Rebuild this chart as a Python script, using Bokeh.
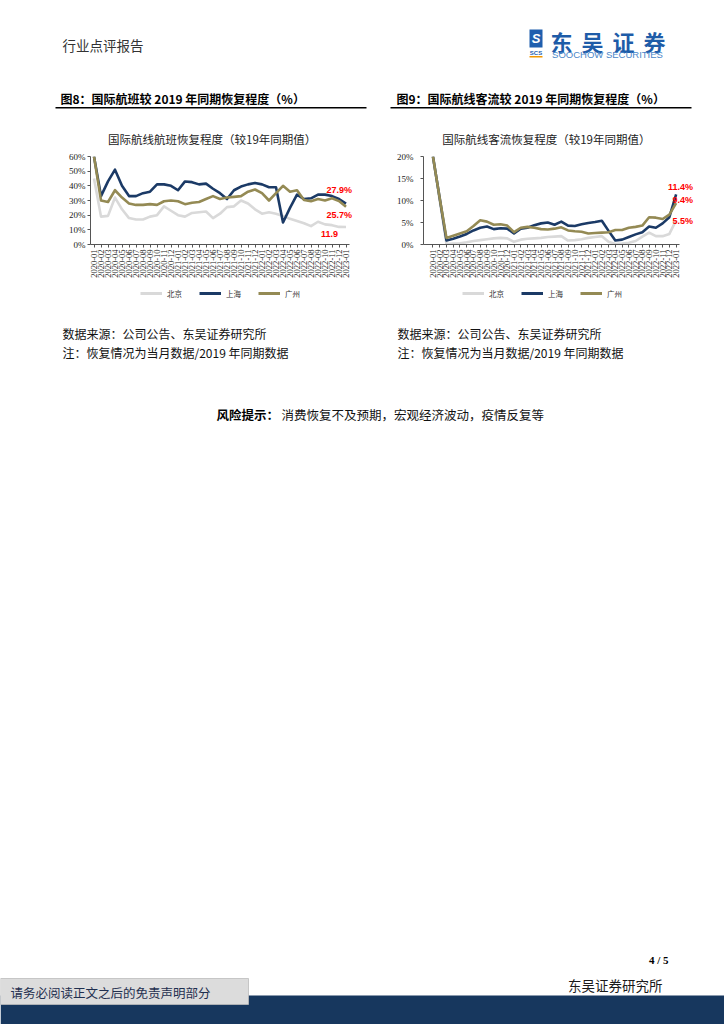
import math
from bokeh.plotting import figure
from bokeh.models import Range1d, FixedTicker, Legend, LegendItem, Title, Label
from bokeh.layouts import column, row
from bokeh.core.properties import value
from bokeh.embed import file_html
from bokeh.resources import INLINE

# ---------------- data ----------------
months = ["2020-01", "2020-02", "2020-03", "2020-04", "2020-05", "2020-06", "2020-07", "2020-08",
          "2020-09", "2020-10", "2020-11", "2020-12", "2021-01", "2021-02", "2021-03", "2021-04",
          "2021-05", "2021-06", "2021-07", "2021-08", "2021-09", "2021-10", "2021-11", "2021-12",
          "2022-01", "2022-02", "2022-03", "2022-04", "2022-05", "2022-06", "2022-07", "2022-08",
          "2022-09", "2022-10", "2022-11", "2022-12", "2023-01"]
series_names = ["北京", "上海", "广州"]

# Fig 8: international flights recovery vs 2019 (%)
flight_bj = [45, 19, 19.5, 32, 24, 18, 17, 17, 19, 20, 26, 23, 20, 19, 21.5, 22, 22.5, 18, 21, 25.5,
             26, 30, 28, 24, 21, 22, 21, 19.5, 17.5, 16, 14.5, 12.5, 15.5, 13.7, 13.2, 12, 11.9]
flight_sh = [60, 33, 43, 51, 40, 33, 33, 35, 36, 41, 41, 40, 37, 43, 42.5, 41, 41.5, 38, 35, 31,
             37, 39.5, 41, 42, 41, 39, 39, 15, 25, 34, 31, 31.5, 34, 34, 33, 31, 27.9]
flight_gz = [60, 30, 29, 37, 32, 28, 27, 27, 27.5, 27, 29.5, 30, 29.5, 27.5, 28.5, 29, 31, 33, 31, 32,
             32.5, 33, 36, 37.5, 35, 30, 35, 40, 36, 37, 30.3, 29.5, 31, 30, 31.5, 29.6, 25.7]
flight_yticks = [0, 10, 20, 30, 40, 50, 60]

# Fig 9: international passenger traffic recovery vs 2019 (%)
pax_bj = [20, 10, 0.1, 0.2, 0.3, 0.5, 0.8, 1.0, 1.2, 1.4, 1.5, 1.4, 0.6, 1.1, 1.3, 1.4, 1.5, 1.7, 1.8,
          1.9, 0.9, 1.0, 1.2, 1.5, 1.7, 1.9, 0.6, 0.1, 0.2, 0.4, 0.8, 1.8, 2.7, 1.9, 1.9, 2.4, 5.5]
pax_sh = [20, 10.5, 0.9, 1.3, 1.8, 2.4, 3.2, 3.8, 4.1, 3.5, 3.7, 3.6, 2.5, 3.6, 3.8, 4.4, 4.8, 5.0, 4.5,
          5.2, 4.3, 4.2, 4.6, 4.9, 5.1, 5.4, 3.1, 0.9, 1.1, 1.7, 2.3, 2.8, 4.1, 3.8, 4.8, 6.2, 11.4]
pax_gz = [20, 10.5, 1.5, 2.0, 2.5, 3.0, 4.2, 5.5, 5.2, 4.5, 4.6, 4.3, 2.8, 3.8, 4.0, 3.8, 3.5, 3.4, 3.6,
          3.9, 3.2, 3.0, 2.9, 2.5, 2.6, 2.7, 2.8, 3.3, 3.3, 3.8, 4.0, 4.3, 6.2, 6.1, 5.8, 6.8, 9.4]
pax_yticks = [0, 5, 10, 15, 20]

# ---------------- styles ----------------
CJK = "Noto Sans CJK SC"
SERIF = "Liberation Serif"
SANS = "Liberation Sans"
COLORS = ["#D9D9D9", "#1B3A66", "#948A54"]
W = 724
LW = 2.6


def page_fig(w, h):
    f = figure(width=w, height=h, x_range=Range1d(0, w), y_range=Range1d(h, 0),
               output_backend="svg", toolbar_location=None, min_border=0,
               x_axis_location=None, y_axis_location=None)
    f.grid.visible = False
    f.outline_line_color = None
    f.background_fill_color = "white"
    f.border_fill_color = "white"
    return f


def txt(f, x, y, s, size, font=CJK, color="#000000", bold=False, align="left", italic=False):
    style = "bold" if bold else "normal"
    if italic:
        style = "bold italic" if bold else "italic"
    f.text(x=[x], y=[y], text=[s], text_font=value(font), text_font_size=f"{size}px",
           text_color=color, text_font_style=style, text_align=align, text_baseline="middle")


def chart(title, values, yticks, xr, x_end, fw, left, right, title_offset, y_standoff, notes):
    p = figure(frame_width=fw, frame_height=88, x_range=Range1d(xr[0], x_end),
               y_range=Range1d(yticks[0], yticks[-1]),
               output_backend="svg", toolbar_location=None,
               min_border_left=left, min_border_right=right, min_border_top=37, min_border_bottom=40)
    p.title = Title(text=title, align="left", offset=title_offset, text_font=CJK, standoff=20,
                    text_font_size="11.5px", text_font_style="normal", text_color="#222222")
    p.grid.visible = False
    p.outline_line_color = None
    xs = list(range(len(months)))
    for vals, col in zip(values, COLORS):
        p.line(xs, vals, line_color=col, line_width=LW, line_join="round")
    xa = p.xaxis[0]
    xa.bounds = xr
    xa.ticker = FixedTicker(ticks=xs)
    xa.major_label_overrides = {i: m for i, m in enumerate(months)}
    xa.major_label_orientation = math.pi / 2
    xa.major_label_text_font = SERIF
    xa.major_label_text_font_size = "8.5px"
    xa.major_label_text_color = "#222222"
    xa.major_label_standoff = 2
    xa.major_tick_out = 3
    xa.major_tick_in = 0
    xa.minor_tick_line_color = None
    xa.axis_line_color = "#555555"
    xa.major_tick_line_color = "#555555"
    ya = p.yaxis[0]
    ya.ticker = FixedTicker(ticks=yticks)
    ya.major_label_overrides = {t: f"{t}%" for t in yticks}
    ya.major_label_text_font = SERIF
    ya.major_label_text_font_size = "9px"
    ya.major_label_text_color = "#222222"
    ya.major_label_standoff = y_standoff
    ya.major_tick_out = 3
    ya.major_tick_in = 0
    ya.minor_tick_line_color = None
    ya.axis_line_color = "#555555"
    ya.major_tick_line_color = "#555555"
    for vals, (fmt, dx, dy) in zip(values, notes):
        p.add_layout(Label(x=len(vals) - 1, y=vals[-1], text=fmt.format(vals[-1]),
                           text_font=SANS, text_font_size="9px", text_font_style="bold",
                           text_color="#FF0000", text_align="right", text_baseline="middle",
                           x_offset=dx, y_offset=-dy))
    return p


def legend_fig(w, h, lx, values):
    # the series are drawn out of view; only their legend entries show
    f = figure(width=w, height=h, x_range=Range1d(1000, 1001), y_range=Range1d(1000, 1001),
               output_backend="svg", toolbar_location=None, min_border=0,
               x_axis_location=None, y_axis_location=None)
    f.grid.visible = False
    f.outline_line_color = None
    items = []
    xs = list(range(len(months)))
    for name, vals, col in zip(series_names, values, COLORS):
        r = f.line(xs, vals, line_color=col, line_width=LW + 0.4)
        items.append(LegendItem(label=name, renderers=[r]))
    lg = Legend(items=items, orientation="horizontal", location=(lx, (h - 10) / 2),
                glyph_width=22, glyph_height=10, label_height=10, label_standoff=5, spacing=12,
                label_text_font=CJK, label_text_font_size="7.5px", label_text_color="#333333",
                border_line_color=None, background_fill_alpha=0, padding=0, margin=0)
    f.add_layout(lg, "center")
    return f


# ---------------- header ----------------
hdr = page_fig(W, 118)
txt(hdr, 62, 44, "行业点评报告", 13.5, color="#333333")
hdr.quad(left=[529], right=[542], top=[29], bottom=[47], fill_color="#1F5FAE", line_color=None)
txt(hdr, 535.5, 38, "S", 13, font=SANS, color="white", bold=True, align="center", italic=True)
txt(hdr, 535.5, 52, "SCS", 6, font=SANS, color="#1F5FAE", bold=True, align="center")
hdr.quad(left=[529], right=[542], top=[55.5], bottom=[57], fill_color="#F39800", line_color=None)
for k, ch in enumerate("东吴证券"):
    txt(hdr, 561 + 31 * k, 40, ch, 22, color="#1E5CA8", bold=True, align="center")
txt(hdr, 607, 53.5, "SOOCHOW SECURITIES", 9.5, font=SANS, color="#4A86C8", align="center")
txt(hdr, 60, 98, "图8：国际航班较 2019 年同期恢复程度（%）", 12, bold=True)
txt(hdr, 396, 98, "图9：国际航线客流较 2019 年同期恢复程度（%）", 12, bold=True)
hdr.quad(left=[55], right=[366], top=[106.5], bottom=[108], fill_color="#000000", line_color=None)
hdr.quad(left=[390], right=[691], top=[106.5], bottom=[108], fill_color="#000000", line_color=None)

# ---------------- charts ----------------
flight_series = [flight_bj, flight_sh, flight_gz]
pax_series = [pax_bj, pax_sh, pax_gz]
c1 = chart("国际航线航班恢复程度（较19年同期值）", flight_series, flight_yticks,
           (-0.5, 36.5), 37.07, 263, 90, 27, 17.5, 2,
           [("{}", -8, 7), ("{}%", 6, -14), ("{}%", 6, 8)])
c2 = chart("国际航线客流恢复程度（较19年同期值）", pax_series, pax_yticks,
           (-1.4, 36.5), 38.72, 271, 43, 30, 18.7, 7,
           [("{}%", 17, 1), ("{}%", 17, -7), ("{}%", 17, -3)])
l1 = legend_fig(380, 19, 140, flight_series)
l2 = legend_fig(344, 19, 82, pax_series)

# ---------------- body / footer ----------------
oy = 302
bot = page_fig(W, 1024 - oy)
for x0 in (62, 397):
    txt(bot, x0, 332 - oy, "数据来源：公司公告、东吴证券研究所", 12, color="#111111")
    txt(bot, x0, 351 - oy, "注：恢复情况为当月数据/2019 年同期数据", 12, color="#111111")
txt(bot, 216, 413 - oy, "风险提示：", 12.5, bold=True)
txt(bot, 281, 413 - oy, "消费恢复不及预期，宏观经济波动，疫情反复等", 12.5, color="#111111")
txt(bot, 668, 958 - oy, "4 / 5", 11, font=SERIF, bold=True, align="right")
txt(bot, 662, 983 - oy, "东吴证券研究所", 13.5, color="#1a1a1a", align="right")
bot.quad(left=[0], right=[W], top=[994 - oy], bottom=[1024 - oy], fill_color="#17375E", line_color=None)
bot.quad(left=[0], right=[248], top=[977 - oy], bottom=[1003 - oy], fill_color="#DCDCDC",
         line_color="#BBBBBB", line_width=0.8)
txt(bot, 10, 991 - oy, "请务必阅读正文之后的免责声明部分", 12.5, color="#1F2F4F")

page = column(hdr, row(c1, c2), row(l1, l2), bot)
open("out.html", "w").write(file_html(page, INLINE))
